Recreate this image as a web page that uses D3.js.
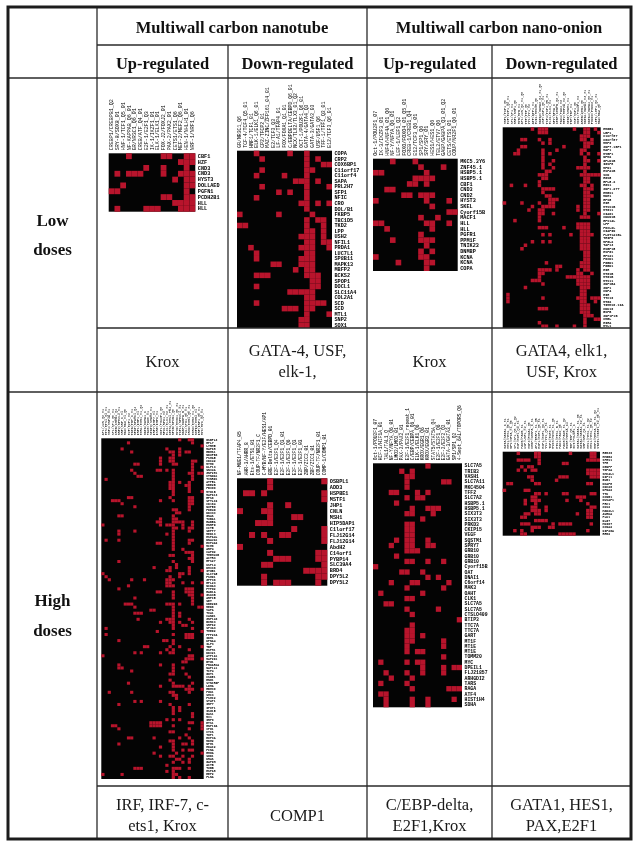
<!DOCTYPE html>
<html>
<head>
<meta charset="utf-8">
<script src="https://cdn.jsdelivr.net/npm/d3@7"></script>
<style>
  html, body { margin: 0; padding: 0; background: #fff; }
  svg { display: block; filter: blur(0.35px); }
  .head { font-family: "Liberation Serif", serif; font-weight: bold; fill: #111; text-anchor: middle; }
  .body { font-family: "Liberation Serif", serif; fill: #1a1a1a; text-anchor: middle; }
  .axis text { font-family: "Liberation Mono", monospace; fill: #000; }
  .axis path, .axis line { display: none; }
</style>
</head>
<body>
<script>
// table text
const groupHeads = ["Multiwall carbon nanotube", "Multiwall carbon nano-onion"];
const subHeads = ["Up-regulated", "Down-regulated", "Up-regulated", "Down-regulated"];
const lowFactors = [["Krox"], ["GATA-4, USF,", "elk-1,"], ["Krox"], ["GATA4, elk1,", "USF, Krox"]];
const highFactors = [["IRF, IRF-7, c-", "ets1, Krox"], ["COMP1"], ["C/EBP-delta,", "E2F1,Krox"], ["GATA1, HES1,", "PAX,E2F1"]];

// low dose, nanotube, up
const lowTubeUpCols = ["CREBP1/CREBPB1_Q2","SRY-8/SOX8_01","HNF-1/TCF1_Q5_01","NF-KAPPAB_Q6_01","GR/NR3C1_Q6_01","CREB/ATF_Q4_01","E2F-1/E2F1_Q3","IK-1/IKZF1_01","ELK-1/ELK1_01","FOX-J2/FOXJ2_01","PAX-2/PAX2_01","CETS1/ETS1_Q6","MEF-2/MEF2_Q6_01","HEN-1/NHLH1_01","NRF-1/NRF1_Q6"];
const lowTubeUpRows = ["CBF1","HZF","CND3","CND3","HYST3","DOLLAED","PGFN1","PCDH2B1","HLL","HLL"];
const lowTubeUpCells = [[3,9,10,13,14],[12,13,14],[6,9,13],[1,3,4,5,9,12,13,14],[11,13,14],[2,13,14],[0,1,13],[9,10,13,14],[11,12,13,14],[1,6,7,8,12,13,14]];

// low dose, nanotube, down
const lowTubeDownCols = ["GR/NR3C1_Q6","TCF-4/TCF4_Q5_01","HNF1/TCF1_01","ELK-1/ELK1_Q6_01","CP2/TFCP2_01","MAZ-ZINC/ZFP161_04_01","E2/TCF3_Q3","LF-A1/TFAP4_01","FOX/FOXA1_Q1_01","C/EBPDELTA/CEBPD_Q6_01","NCX/TLX2/TLX3_01_Q2","OCT-1/POU2F1_Q6_01","GATA-4/GATA4_Q3","GATA-3/GATA3_03","USF/USF1_Q6","TFF-1/TFF1_Q3_01","E12/TCF3_Q6_01"];
const lowTubeDownRows = ["COPA","CRP2","COX6BP1","C11orf17","C11orf4","SAPA","PRL2H7","SFP1","NFIC","CRO","DOL/B1","FKBP5","TBC1D5","TKD2","LPP","USH2","NFIL1","PRDA1","LUC7L1","SP8B11","MAPK13","MBFP2","BCKS2","SPOP1","DOCL1","SLC11A4","COL2A1","SCD","SCD","MTL1","SNP2","SOX1"];
const lowTubeDownCells = [[3,9,12],[4,12,14],[12,15,16],[4,12,13],[3,8,12],[10,11,12,14],[4,12,16],[7,9,12],[3,12],[11,12,14,16],[12],[0,7,13],[12,14,15],[0,1,12,15],[12,13,15],[11,12,13,15],[12,13,15,16],[2,11,12,13,16],[3,12,13],[3,11,12,13],[6,7,11,12,13],[10,12,13],[3,4,5,12,13,14],[13,14],[3,13,14],[9,10,11,12,13],[12,13],[3,12,13,14,15],[8,9,10,12,13],[12,16],[11,12],[11,12]];

// low dose, onion, up
const lowOnionUpCols = ["Oct-1/POU2F1_07","IK-3/IKZF3_01","HNF4/HNF4A_01_Q6","NF-Y/NFYA_Q6_01","LEF-1/LEF1_Q2","FOXO/FOXO4_01_Q5_01","CREB-1/CREB1_Q4","E12/TCF3_Q6_01","SP1/SP1_Q6","SRY/SRY_01","HES1/HES1_Q6","TEL2/ETV7_Q6","GABP/GABPA_Q3_01_Q2","CETS/ETS1_01","COUP/NR2F1_Q6_01"];
const lowOnionUpRows = ["MKC5.3Y6","ZNF45.1","HSBP5.1","HSBP5.1","CBF1","CND3","CND2","HYST3","SKEL","Cyorf15B","MACF1","HLL","HLL","PGFR1","PPM1F","TNIK23","DNMBP","KCNA","KCNA","COPA"];
const lowOnionUpCells = [[3,7],[8,12],[0,1,9],[7,8,9,10],[6,7,9],[2,3],[5,6,8,9,10],[0,9,13],[10],[13,14],[8,11],[0,1,9,10,13],[2,10],[8],[3,8,9,10],[9],[8,10],[0,8,9],[4,9,10],[9]];

// low dose, onion, down
const lowOnionDownCols = ["HNF1/TCF1_Q6","E2F/E2F1_Q2_01","SP1/SP1_01","NRF1/NRF1_Q6","MYB/MYB_01","AP1/JUN_Q2_01_Q6","TEF/TEF_Q6","YY1/YY1_02","ATF/ATF1_01","EVI1/MECOM_Q6","GATA3/GATA3_Q4_01_Q6","USF/USF1_Q6_01","TCF4/TCF4_Q5_01","ELK1/ELK1_01","NFY/NFYA_C","CEBP/CEBPB_Q3_01","PAX4/PAX4_03","MEF2/MEF2A_02_Q6","STAT/STAT1_01","TBP/TBP_01","HSF/HSF1_Q6","OCT1/POU2F1_02","AREB/ZEB1_Q6","GATA1/GATA1_03_01","GATA4/GATA4_Q6_01","FOXD3/FOXD3_01","LEF1/LEF1_Q2_01","MAZ/MAZ_Q6"];
const lowOnionDownRows = ["HMGB1","LBP1","C1orf87","C6orf87","MMP9","ZNF7.1BP1","MAP1","MYBP1","NPM2","GPLD1B","IGSF8","MFN1","HSPA1B","SCD","RGS5","RPL5.2","RGS1","ZNF1.277","HMBS1","MDH1","RPS5","HIR","MTSS1B","MTG11","CIAO1","CDKN1B","RPS14L","LPP","FOXL2L","CIAPIN","FLOT1A1BL","TRIP6","MFGL2","TAF13","HSBP15","HSPG1","RPS21","FOXD1","PGBD1","PGBD1","HIR","MTG1B","MTG1B","MTS11","ZNF1B4","ZNF1","CNP4","HIR","TTC19","MTG2","TIMM10.19A","CDK19","BSPB","ZNF1P1B","CMBL","HIRA","MYL1"];
const lowOnionDownCells = [[8,10,11,12,20,23,24,26],[10,11,12,23,24,27],[22,23,24],[5,6,10,13,22,23,25],[11,13,23,24,25],[5,6,17,23,24],[4,11,15,22,23],[3,4,11,13,22,24,27],[11,23],[11,14,23,24,27],[11,13,23],[11,14,21,22,23,24],[12,13,23],[10,11,12,22,23,24,25,26,27],[11,12,23,24],[10,23,24],[2,6,10,22,23,25],[11,12,13,14,23,24,25],[11,23,24],[12,13,23,24,25],[13,14,15,23,24],[0,5,10,13,14,23,24],[8,11,12,13,14,21,23,24],[7,10,11,21,23,24],[10,11,14,23,27],[10,22,23,24],[3,10],[21,22,23,24],[10,11,12,17,21,22,23,24],[22,23,24],[11,13,19,22,23,24,25],[22,23,24],[8,11,13,22,23,24],[6,22,23,24],[5,22,23,24],[23,24],[23,24],[23,24],[12,22,23,24],[15,16,22,23,24],[10,11,12,13,15,21,23,24],[10,11,21,22,25],[10,18,19,20,21,22,23,24],[8,9,10,21,22,23,24],[11,21,22,23,24],[6,22,23,24],[22,23],[1,22,23],[1,11,21,22,23,25,26,27],[1,22,23,26],[22,23,24],[10,11,12,22,23,24],[22,23,24],[23,24,25],[23,26,27],[10,23],[11,12,15,20,23]];

// high dose, nanotube, up
const highTubeUpCols = ["AP1/JUN_Q2_01","ETS/ETS1_Q4_01","HNF4/HNF4A_01","SP1/SP1_Q6_01","CREB/CREB1_Q4","NRF2/NFE2L2_01","SRF/SRF_C_01","MAX/MAX_01_Q6","E2F/E2F1_02","TATA/TBP_C_01","NFAT/NFATC1_Q4","IRF1/IRF1_01","EGR1/EGR1_01_Q2","GATA/GATA1_C","PAX6/PAX6_01","STAT3/STAT3_01","IRF7/IRF7_01","ISRE/IRF9_01","OCT1/POU2F1_Q6","RFX1/RFX1_02","ELK1/ELK1_02_01","CETS1/ETS1_P54_01","NFKB/NFKB1_Q6","MYOD/MYOD1_Q6_01","TCF11/NFE2L1_01","GABP/GABPA_B_01","PU1/SPI1_Q6_01","KROX/EGR1_Q6_01","EGR3/EGR3_01_Q6","NGFIC/EGR4_01","IRF/IRF1_Q6_01","MYC/MYC_Q2_01"];
const highTubeUpRows = ["OSBPL3","RPL7","LYRM5","MAPK8","RBMS1","NDUFB3","PSMA5","CDC42","MYH9","KLF13","SNX4A","ZNF281","CTNNA1","TXNRD1","ATP5L","UBE2B","FBXO9","MYO1B","MAPK13","RPS6","SPTLC2","CD164","NUP50","PDE4D","DDX3X","GNAS","TUBA1","RAB5A","HNRPD","CCT5","SEPT7","MED13","HSPA4L","DNAJA1","EIF4A2","MCM6","ARF4","CAPN2","TMEM41B","ACTR3","RPS27","USP14","DHX36","ITGB1","SLC7A5","PSMD1","ZFP36","RPL23","NCOA3","PTPN2","RAB1A","GSK3B","ARPC5","SET","UBE2D3","MED6","VAPA","TIA1","CAND1","ZNF143","BIRC3","SRPK2","SF3A3","TMED2","PPP2CA","IDH1","KPNA4","ILF3","TBP","HSPH1","DDX21","ATP1A1","MAP2K1","BTG1","PRKAR1A","NAP1L1","TCF4","GOT1","CSDE1","ENO1","SYNCRIP","LDHA","RBM39","PGK1","SMC3","PSMC2","STAT1","IRF7","IFIT1","ISG15","OAS1","MX1","IRF9","ETS1","RNF19A","XPO1","CYCS","TOP1","EIF3A","MDM2","NPM1","HDAC2","PCNA","RHOA","SOD1","KRAS","GAPDH","ACTB","TUBB","HSPA8","EEF2","FLNA"];
const highTubeUpCells = [[24,27,28],[8,28],[31],[6,20,24],[9,21,22,24,26,27],[22,24],[18,21,22],[18,21,22,28,29],[10,11,18,22,23,28],[28,31],[9,17,18,20,22,28],[10,22,27,28,30,31],[11,12,22,28],[1,22,28],[21,22,24,27],[21,22,26,27],[21,22,27],[22,27,31],[22],[8,9,21,27,28],[3,4,5,18,22,27,28],[6,27,28],[10,27],[22,23,27],[23,24],[5,6,22],[18,22,23],[17,18,22,23,24,25,28],[0,18,20,21,22,25,28],[22,23,25,27,28],[5,10,22,27],[5,20,22],[22],[1,5,22,27,28],[17,18,22,27],[22,31],[22,25],[26,27,28],[21,22,28],[27,28],[5,22,28],[23],[16,21,23,27],[20,21,27,31],[0,24,25,27],[1,21,24],[2,9,13,20,21,22],[20,21,25,28,31],[8,20,21,22],[5,26,27,28],[17,18,22,26,27,28],[22,27,28,31],[10,22,28],[28],[7,8,9,20,21,22,24,28],[10,22,30,31],[15,16,22],[10,11,12,22,24],[22,24],[11,20,21,22,27],[18,21,22,24,28],[22,25,26],[1,22,28],[17,31],[1,22,26,27,28],[26,27,28],[5,19,20,22],[22],[13,14,21,24,31],[20,22,27],[10,12,18,21,22],[0,27,28],[26,27,28,31],[25,26],[5,18,22],[5,6,22,25],[9,22],[21,22,26],[27],[21],[8,22,28],[18,22,23,24,25,27],[26,27,28,31],[2,9,21,22,27],[22,23],[23],[10,12,18],[5,21,27],[22,24],[22,24],[22,28],[28],[20,22,24],[15,16,17,18,27,28,31],[3,4,15,16,17,18,22,31],[5,27,31],[21,22],[26],[8,9,16,24,27],[21,22,28],[5,22,25,26,28],[18,22],[22,25,27,28],[16,23,31],[18,21,22,25,28],[23,24,27],[22,25,27],[20],[10,11,12,22,23,24,27],[20,22],[0,6,22,23],[22,24,27]];

// high dose, nanotube, down
const highTubeDownCols = ["NF-MUE1/TFAP4_05","AHR-3/AHRR_8","Ets-1/ETS1_01","COUP-TF/NR2F1_C","C-MYB/NF-Y/E2F/HES1/AP1","GRE-Delta/CEBPD_01","E2F-1/E2F1_Q4","E2F-1/E2F1_Q3_01","E2F-1/E2F1_Q6","E2F-1/E2F1_Q3","E2F-1/E2F1_03","ZBP/ZIC2_01","ZBF/ZIC1_01","COUP-TF/NR2F1_01","COMP-1/COMP1_01"];
const highTubeDownRows = ["OSBPL1","ADD3","HSPBE1","MSTF1","JHP1","CNLN","MSH1","HIP5DAP1","C1lorf17","FLJ12G14","FLJ12G14","AbdH2","C14orf1","PYBP14","SLC39A4","BRD4","DPY5L2","DPY5L2"];
const highTubeDownCells = [[5,14],[5],[1,2,4,14],[14],[5,8],[0,4,5],[5,9,10],[3,4,5],[9,14],[2,4,7,8,14],[5,14],[0],[5,13,14],[6,7,8,13,14],[4,5,14],[11,12,13,14],[4,13,14],[4,6,7,8,13]];

// high dose, onion, up
const highOnionUpCols = ["Oct-1/POU2F1_07","HIF-1/HIF1A_01","TAL1/TAL1_Q","NF-Y/NFYA_Q6_01","LMO2/LMO2_01","PAX-2/PAX2_01","E2F-1/E2F1_repeat_1","C/EBP/CEBPA_Q6_01","ELK-1/ELK1_Q6","KROX/EGR1_Q6","KROX/EGR2_01","STAT5/STAT5A_Q4","E2F-1/E2F1_Q6","E2F-2/E2F2_Q2","GATA-3/GATA3_01","SP1/SP1_Q2","4-Sept_6AL/TOPORS_Q6"];
const highOnionUpRows = ["SLC7A5","TRIB3","VASH1","SLC7A11","MKC4504","TFF2","SLC7A2","HSBP5.1","HSBP5.1","SIX3T3","SIX3T3","PRKD3","CKIP15","VEGF","SQSTM1","SPRY7","GRB10","GRB10","GRB10","Cyorf15B","OAT","DNAI1","C6orf14","MAK3","OAHT","CLK1","SLC7A5","SLC7A5","CTSLO409","BTIP3","TTC7A","TTC7A","GART","MT1F","MT1E","MT1E","TOMM20","MYC","DPEIL1","FLJ21857","ARHGDI2","TARS","RAGA","ATF4","HIST1H4","SDHA"];
const highOnionUpCells = [[10],[5,7],[6,7],[6,13,14],[6],[3,4,8,10],[6,8,9],[4],[7,10,11,12],[6,7,11],[9],[6,7],[6,7],[6,7],[4,6,7,10],[3,6,7,10,11],[6,7,8],[4],[6,7,10,13],[0],[5,6,9],[10,12],[3,7,8,14],[6,13],[1,9],[6,7],[2,3],[6,12],[7],[16],[7],[6,7],[6,7,9],[6,7,13],[6,13],[6,8,9],[13],[1,6,8,9],[9,13,15,16],[2,6,9,13],[3,7],[1,6],[7,14,15,16],[1,2],[2,7,10,15],[2,7,10]];

// high dose, onion, down
const highOnionDownCols = ["GATA/GATA1_C_01","HES1/HES1_Q6_01","NFY/NFYA_01_Q6","SP1/SP1_Q6_01_Q2","E2F/E2F1_Q3_01","PAX5/PAX5_01","USF/USF1_02_01","HNF3/FOXA1_Q6","CEBP/CEBPA_C_01","AP4/TFAP4_01_Q5","E2F1/E2F1_Q6_01","E2F1/E2F1_Q3_01","YY1/YY1_Q6_01","TCF3/TCF3_01","MYOG/MYOG_01_Q6","ETS1/ETS1_B_01","PAX2/PAX2_Q6","PAX8/PAX8_01_Q2","RSRF/MEF2A_C4","TBP/TBP_Q6_01","OCT/POU2F1_C","GATA1/GATA1_01_Q6","GATA1/GATA1_02_01","SRF/SRF_Q4_01","HES1/HES1_01_Q2","HES1/HES1_Q6_02","MEF2/MEF2A_Q6_01_Q2","STAT1/STAT1_02_Q6_01"];
const highOnionDownRows = ["RBM39","HMGB2","SFRS1","TPR","CENPF","TOP2A","SMC4L1","KIF11","BUB1","NCAPH","CDC20","KPNA2","TTK","CCNB1","NUSAP1","PRC1","CKS2","MAD2L1","AURKA","PLK1","DLG7","MKI67","CCNA2","KIF20A","RRM2"];
const highOnionDownCells = [[4,9,10,19,25,26],[9,10,25,26],[4,5,6,7,10,24,25,26,27],[10,17,18],[5,7,8],[4,6,8,9,24,25,26,27],[24,25,26,27],[7,8,16,17,18,25,26,27],[8,15],[1,2,9,10,24,25],[],[0,6,7],[9,10,12,17,18,25,26],[8,9,21,22,23],[6,8,9,10,18,22],[6,9,24],[8,9,12,25,26],[8,9,10,12,24,25],[6,7,9,10,21,24,25],[5,6,24,25],[9,10,11,12],[5,6,7,14,16,17,18,19,25],[8,9,10,13,14],[3,5,8,24],[5,6,16,17,18,19,20]];

// layout, kept apart from the values
const width = 639, height = 848;
const colEdges = [8, 97, 228, 367, 492, 631];
const rowEdges = [7, 45, 78, 328, 392, 786, 839];
const cellBlack = "#040404", cellRed = "#b8142c";

const panels = [
  {cols: lowTubeUpCols, rows: lowTubeUpRows, cells: lowTubeUpCells, x: [108.7, 195.3], y: [153.3, 211.7], colFont: 5, rowFont: 5.2},
  {cols: lowTubeDownCols, rows: lowTubeDownRows, cells: lowTubeDownCells, x: [237, 332], y: [150.7, 328], colFont: 4.8, rowFont: 5.2},
  {cols: lowOnionUpCols, rows: lowOnionUpRows, cells: lowOnionUpCells, x: [373, 457.7], y: [158.7, 271], colFont: 5, rowFont: 5.2},
  {cols: lowOnionDownCols, rows: lowOnionDownRows, cells: lowOnionDownCells, x: [502.7, 600.7], y: [127.3, 328], colFont: 3.4, rowFont: 3.4},
  {cols: highTubeUpCols, rows: highTubeUpRows, cells: highTubeUpCells, x: [101.3, 203.7], y: [438.3, 779], colFont: 3.4, rowFont: 3.1},
  {cols: highTubeDownCols, rows: highTubeDownRows, cells: highTubeDownCells, x: [237, 327.3], y: [478.3, 585.7], colFont: 4.6, rowFont: 5.2},
  {cols: highOnionUpCols, rows: highOnionUpRows, cells: highOnionUpCells, x: [373, 462], y: [463.3, 707.3], colFont: 4.6, rowFont: 4.8},
  {cols: highOnionDownCols, rows: highOnionDownRows, cells: highOnionDownCells, x: [502.7, 600], y: [451.7, 535.7], colFont: 3.4, rowFont: 3.2}
];

const svg = d3.select("body").append("svg").attr("width", width).attr("height", height);
svg.append("rect").attr("width", width).attr("height", height).attr("fill", "#fff");

// one heatmap per data cell of the table
panels.forEach(function(p) {
  const xScale = d3.scaleBand().domain(p.cols.map((d, i) => i)).range(p.x);
  const yScale = d3.scaleBand().domain(p.rows.map((d, i) => i)).range(p.y);
  const g = svg.append("g");

  g.append("rect")
    .attr("x", p.x[0]).attr("y", p.y[0])
    .attr("width", p.x[1] - p.x[0]).attr("height", p.y[1] - p.y[0])
    .attr("fill", cellBlack);

  const flat = [];
  p.cells.forEach((row, r) => row.forEach(c => flat.push([r, c])));
  g.selectAll("rect.cell")
    .data(flat)
    .enter()
    .append("rect")
    .attr("class", "cell")
    .attr("x", d => xScale(d[1]))
    .attr("y", d => yScale(d[0]))
    .attr("width", xScale.bandwidth())
    .attr("height", yScale.bandwidth())
    .attr("fill", cellRed);

  const top = d3.axisTop(xScale).tickSize(0).tickPadding(0).tickFormat(i => p.cols[i]);
  g.append("g").attr("class", "axis")
    .attr("transform", "translate(0," + (p.y[0] - 3) + ")")
    .call(top)
    .selectAll("text")
    .attr("font-size", p.colFont)
    .attr("transform", "rotate(-90)")
    .attr("x", 0).attr("y", 0).attr("dy", "0.32em")
    .attr("text-anchor", "start");

  const right = d3.axisRight(yScale).tickSize(0).tickPadding(2.5).tickFormat(i => p.rows[i]);
  g.append("g").attr("class", "axis")
    .attr("transform", "translate(" + p.x[1] + ",0)")
    .call(right)
    .selectAll("text")
    .attr("font-size", p.rowFont)
    .attr("font-weight", "bold");
});

// table rules
const rules = svg.append("g").attr("stroke", "#2a2a2a").attr("stroke-width", 1.3);
const hLine = (y, x1, x2) => rules.append("line").attr("x1", x1).attr("x2", x2).attr("y1", y).attr("y2", y);
const vLine = (x, y1, y2) => rules.append("line").attr("x1", x).attr("x2", x).attr("y1", y1).attr("y2", y2);
hLine(rowEdges[1], colEdges[1], colEdges[5]);
hLine(rowEdges[2], colEdges[0], colEdges[5]);
hLine(rowEdges[3], colEdges[1], colEdges[5]);
hLine(rowEdges[4], colEdges[0], colEdges[5]);
hLine(rowEdges[5], colEdges[1], colEdges[5]);
vLine(colEdges[1], rowEdges[0], rowEdges[6]);
vLine(colEdges[2], rowEdges[1], rowEdges[6]);
vLine(colEdges[3], rowEdges[0], rowEdges[6]);
vLine(colEdges[4], rowEdges[1], rowEdges[6]);

svg.append("rect")
  .attr("x", colEdges[0]).attr("y", rowEdges[0])
  .attr("width", colEdges[5] - colEdges[0]).attr("height", rowEdges[6] - rowEdges[0])
  .attr("fill", "none").attr("stroke", "#1c1c1c").attr("stroke-width", 3);

// headers
const centre = (a, b) => (a + b) / 2;
svg.append("text").attr("class", "head").attr("font-size", 16.5)
  .attr("x", centre(colEdges[1], colEdges[3])).attr("y", 32.5).text(groupHeads[0]);
svg.append("text").attr("class", "head").attr("font-size", 16.5)
  .attr("x", centre(colEdges[3], colEdges[5])).attr("y", 32.5).text(groupHeads[1]);
subHeads.forEach(function(t, i) {
  const h = svg.append("text").attr("class", "head").attr("font-size", 16.5)
    .attr("x", centre(colEdges[i + 1], colEdges[i + 2])).attr("y", 68.5).text(t);
  if (t[0] === "D") h.attr("textLength", 112).attr("lengthAdjust", "spacing");
});

// row headers
const sideHeads = [["Low", 226], ["doses", 255], ["High", 606], ["doses", 636]];
svg.selectAll("text.side").data(sideHeads).enter().append("text")
  .attr("class", "head side").attr("font-size", 17)
  .attr("x", centre(colEdges[0], colEdges[1])).attr("y", d => d[1]).text(d => d[0]);

// transcription factors under each heatmap
function factorCell(lines, i, mid) {
  lines.forEach(function(t, k) {
    svg.append("text").attr("class", "body").attr("font-size", 16.5)
      .attr("x", centre(colEdges[i + 1], colEdges[i + 2]))
      .attr("y", mid + 5.5 + (k - (lines.length - 1) / 2) * 21)
      .text(t);
  });
}
lowFactors.forEach((lines, i) => factorCell(lines, i, 361));
highFactors.forEach((lines, i) => factorCell(lines, i, 815));
</script>
</body>
</html>
